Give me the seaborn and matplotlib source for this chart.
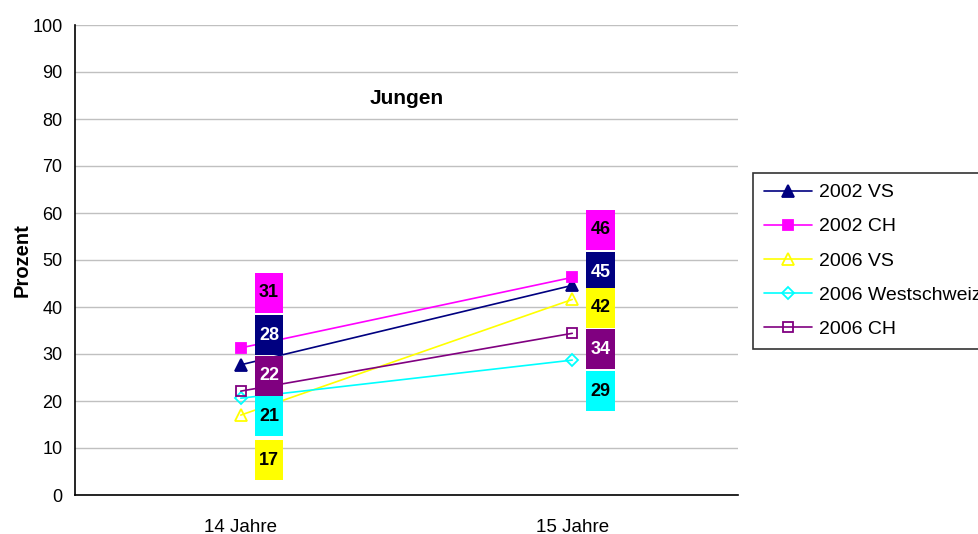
import numpy as np
import pandas as pd
import seaborn as sns
import matplotlib.pyplot as plt
from matplotlib.patches import Rectangle

# data
ages = ["14 Jahre", "15 Jahre"]
series = ["2002 VS", "2002 CH", "2006 VS", "2006 Westschweiz", "2006 CH"]
vs_2002 = [27.7, 44.6]
ch_2002 = [31.3, 46.3]
vs_2006 = [17.0, 41.6]
ws_2006 = [20.6, 28.7]
ch_2006 = [22.1, 34.4]
labels_14 = ["28", "31", "17", "21", "22"]
labels_15 = ["45", "46", "42", "29", "34"]

# styles
colors = ["#000080", "#FF00FF", "#FFFF00", "#00FFFF", "#800080"]
markers = ["^", "s", "^", "D", "s"]
msizes = [8, 6.5, 8, 6, 7]
filled = [True, True, False, False, False]
txt_colors = ["white", "black", "black", "black", "white"]
# where the data label boxes sit (y centre in data units)
lab_y_14 = [34, 43, 7.4, 16.8, 25.4]
lab_y_15 = [47.4, 56.4, 39.8, 22.1, 31]

df = pd.DataFrame({"age": np.arange(len(ages)).tolist() * len(series),
                   "serie": np.repeat(series, len(ages)),
                   "wert": vs_2002 + ch_2002 + vs_2006 + ws_2006 + ch_2006})

sns.set_theme(style="white")
plt.rcParams['font.family'] = ['Liberation Sans', 'DejaVu Sans']
plt.rcParams.update({"text.color": "black", "axes.labelcolor": "black",
                     "xtick.color": "black", "ytick.color": "black"})

fig = plt.figure(figsize=(9.79, 5.34), dpi=100)
ax = fig.add_axes([75/979, 1-495/534, (738-75)/979, (495-25)/534])

for i, s in enumerate(series):
    d = df[df["serie"] == s]
    sns.lineplot(data=d, x="age", y="wert", ax=ax, color=colors[i],
                 marker=markers[i], markersize=msizes[i],
                 markerfacecolor=colors[i] if filled[i] else "none",
                 markeredgecolor=colors[i], markeredgewidth=1.3,
                 linewidth=1.2, label=s, zorder=3)

# data label boxes (manually placed, as in the original)
bw, bh = 0.085, 8.5
for i in range(len(series)):
    for xi, (ly, lt) in enumerate([(lab_y_14[i], labels_14[i]), (lab_y_15[i], labels_15[i])]):
        cx = xi + 0.085
        ax.add_patch(Rectangle((cx - bw/2, ly - bh/2), bw, bh, fc=colors[i],
                               ec="none", zorder=4))
        ax.text(cx, ly, lt, ha="center", va="center", fontsize=13,
                fontweight="bold", color=txt_colors[i], zorder=5)

ax.set_xlim(-0.5, 1.5)
ax.set_ylim(0, 100)
ax.set_yticks(np.arange(0, 101, 10))
ax.set_xticks([-0.5, 0.5, 1.5])
ax.set_xticklabels([])
ax.set_xticks([0, 1], minor=True)
ax.set_xticklabels(ages, minor=True)
ax.tick_params(axis="x", which="minor", length=0, pad=17, labelsize=13.5)
ax.tick_params(axis="x", which="major", direction="out", length=5, width=1)
ax.tick_params(axis="y", direction="out", length=5, width=1, labelsize=13, pad=4)
ax.yaxis.grid(True, color="#C0C0C0", linewidth=1)
ax.set_axisbelow(True)
for sp in ["top", "right"]:
    ax.spines[sp].set_visible(False)
for sp in ["left", "bottom"]:
    ax.spines[sp].set_color("black")
    ax.spines[sp].set_linewidth(1.2)
ax.set_xlabel("")
ax.set_ylabel("Prozent", fontsize=14.5, fontweight="bold")
ax.yaxis.set_label_coords(-0.066, 0.5)
ax.text(0.5, 84.3, "Jungen", ha="center", va="center", fontsize=15, fontweight="bold")

leg = ax.legend(loc="upper left", bbox_to_anchor=(753/979, 1-173/534),
                bbox_transform=fig.transFigure, frameon=True, fancybox=False,
                edgecolor="black", fontsize=14, labelspacing=0.85,
                handlelength=2.5, borderpad=0.55, handletextpad=0.35, borderaxespad=0)
leg.get_frame().set_linewidth(1.2)

fig.savefig("out.png", dpi=100)
